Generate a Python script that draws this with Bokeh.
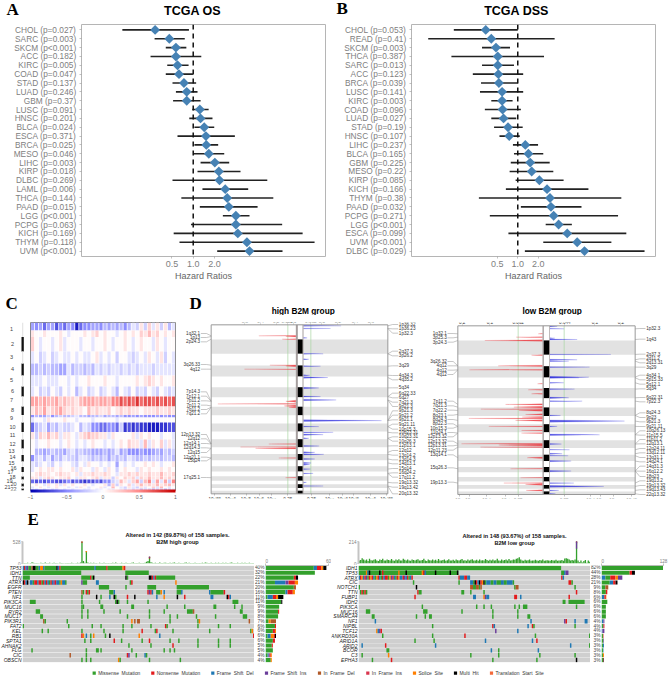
import numpy as np
from bokeh.plotting import figure
from bokeh.layouts import column, row
from bokeh.models import (Range1d, FactorRange, FixedTicker, Span, LinearAxis,
                          LinearColorMapper, ColorBar, ColumnDataSource)
from bokeh.core.properties import value
from bokeh.embed import file_html
from bokeh.resources import INLINE

FONT = "Liberation Sans"
SERIF = "Liberation Serif"

# ---------- Panel A / B values
OS_NAMES = ["CHOL","SARC","SKCM","ACC","KIRC","COAD","STAD","LUAD","GBM","LUSC","HNSC","BLCA","ESCA","BRCA","MESO","LIHC","KIRP","DLBC","LAML","THCA","PAAD","LGG","PCPG","KICH","THYM","UVM"]
OS_P = ["=0.027","=0.003","<0.001","=0.182","=0.005","=0.047","=0.137","=0.246","=0.37","=0.091","=0.201","=0.024","=0.371","=0.025","=0.046","=0.003","=0.018","=0.269","=0.006","=0.144","=0.015","<0.001","=0.063","=0.169","=0.118","<0.001"]
OS_LOW = [0.10,0.285,0.41,0.25,0.43,0.41,0.51,0.57,0.52,0.97,0.88,1.04,0.60,1.04,1.0,1.27,1.15,0.51,1.35,0.68,1.24,2.62,0.93,0.53,0.64,2.18]
OS_HR = [0.29,0.46,0.57,0.57,0.60,0.63,0.74,0.81,0.81,1.24,1.27,1.43,1.51,1.53,1.66,2.02,2.30,2.35,2.83,3.02,3.18,4.0,4.0,4.26,5.73,6.23]
OS_HIGH = [0.87,0.76,0.80,1.30,0.86,0.99,1.10,1.15,1.27,1.65,1.87,1.98,3.87,2.25,2.74,3.22,4.65,11.1,5.97,13.5,8.1,6.23,18.0,35.0,51.6,18.2]

DSS_NAMES = ["CHOL","READ","SKCM","THCA","SARC","ACC","BRCA","LUSC","KIRC","COAD","LUAD","STAD","HNSC","LIHC","BLCA","GBM","MESO","KIRP","KICH","THYM","PAAD","PCPG","LGG","ESCA","UVM","DLBC"]
DSS_P = ["=0.053","=0.41","=0.003","=0.387","=0.013","=0.123","=0.039","=0.141","=0.003","=0.096","=0.027","=0.19","=0.107","=0.237","=0.165","=0.225","=0.22","=0.085","=0.166","=0.38","=0.032","=0.271","<0.001","=0.099","<0.001","=0.029"]
DSS_LOW = [0.116,0.049,0.30,0.107,0.30,0.22,0.29,0.28,0.41,0.33,0.41,0.45,0.54,0.85,0.88,0.79,0.76,0.93,0.67,0.27,1.11,0.39,2.56,0.73,2.36,1.27]
DSS_HR = [0.34,0.41,0.48,0.51,0.51,0.52,0.53,0.59,0.59,0.60,0.62,0.72,0.75,1.29,1.43,1.52,1.60,2.07,2.68,2.96,3.06,3.35,3.96,5.29,7.4,9.46]
DSS_HIGH = [1.0,3.46,0.77,2.42,0.88,1.20,1.0,1.20,0.84,1.11,0.95,1.18,1.07,1.98,2.36,2.93,3.31,4.68,10.8,32.7,8.55,29.3,6.18,38.7,23.4,71.5]

# ---------- Panel C values (tenths of log ratio per sample bin, by chromosome arm)
HEAT_ROWS = ["1p","1q","2","3","4","5","6","7","8","9p","9q","10","11","12","13","14","15","16","17","18","19","20","21","22"]
HEAT_EDGES = [0,8,14.5,29,41,53,64,74,84,92.5,95,100,109.5,117,126,132.5,139,144.5,149.5,154,157,161,164,166,168]
HEAT_1P = [-4,-5,-4,-6,-4,-4,-7,-5,-6,-4,-5,-9,-6,-5,-5,-4,-4,-5,-3,-4,-3,-4,-3,-5,-3,-1,-2,1,-2,2,-1,1,-2,1,-3,-1]
HEAT_1Q = [1,0,0,1,0,0,0,1,0,-1,0,0,0,1,0,1,2,0,1,0,0,-1,0,1,0,1,0,2,1,3,1,2,0,1,0,1]
HEAT_2 = [2,0,-1,0,0,-1,0,1,-1,0,0,0,-1,0,0,-1,0,0,1,0,-1,0,0,1,0,-1,0,1,0,0,-1,1,0,-1,0,0]
HEAT_3 = [-1,0,-2,-1,0,-2,-1,0,-1,-1,0,-1,0,-1,-1,0,1,-1,0,-1,0,-2,0,0,-1,-2,-1,0,-1,1,0,-1,1,-2,0,-1]
HEAT_4 = [-3,-3,-2,-3,-2,-3,-3,-4,-4,-1,-3,-2,-2,-3,-2,-3,-1,-2,-1,-2,-1,-1,-2,-1,-2,-1,-2,-1,-1,-1,-2,-1,-1,-1,-1,-1]
HEAT_5 = [-1,-1,-1,0,-1,-1,-1,0,0,-1,0,-1,0,0,1,0,0,0,1,0,0,-1,0,0,0,0,1,0,1,2,1,0,1,0,0,1]
HEAT_6 = [-1,0,-2,-1,-2,0,-1,-2,0,-1,0,-3,-1,0,-2,-1,0,-2,-1,0,-1,-3,0,-1,-2,0,-2,-1,-2,0,-1,-2,0,-1,-2,-1]
HEAT_7 = [4,4,3,4,3,3,4,2,3,2,2,1,3,4,4,4,3,4,4,3,5,5,7,6,7,6,8,6,7,7,6,7,6,7,6,7]
HEAT_8 = [1,3,2,4,1,2,3,4,2,1,2,1,1,0,3,1,2,1,1,2,0,1,2,1,2,1,1,0,1,1,1,2,1,1,2,1]
HEAT_9P = [-5,-3,-4,-4,-2,-5,-3,-2,-3,-3,-2,-1,-3,-3,-4,-3,-3,-2,-4,-3,-3,-4,-3,-5,-5,-4,-5,-4,-5,-5,-5,-4,-5,-4,-5,-5]
HEAT_9Q = [-1,0,0,-1,1,0,0,0,1,0,0,-1,0,0,0,-1,0,0,0,0,0,-1,0,0,0,0,0,0,0,0,0,0,0,0,0,0]
HEAT_10 = [-6,-3,-2,-1,-4,-2,-3,-1,-2,-2,-1,0,-3,-1,-2,-5,-5,-6,-6,-5,-5,-6,-2,-8,-7,-8,-7,-8,-8,-9,-9,-9,-8,-8,-7,-7]
HEAT_11 = [1,-2,2,1,3,1,2,-1,1,1,0,-1,1,2,3,2,2,1,1,-1,1,0,0,0,0,1,-1,1,0,1,0,0,-1,0,0,-1]
HEAT_12 = [0,-1,0,0,1,0,0,-1,0,1,0,-1,0,-1,0,1,0,0,-1,0,-1,0,1,0,2,1,1,-1,3,-1,1,0,2,-1,1,-1]
HEAT_13 = [0,-3,-3,-4,-3,-2,-3,-3,-4,-2,-1,-3,-2,-3,-3,-4,-4,-4,-3,-4,-3,-1,-4,-3,-5,-5,-5,-4,-5,-5,-4,-3,-4,-2,-3,-2]
HEAT_14 = [-5,-2,-1,-3,-1,-4,-2,-3,-1,-2,-2,-3,-1,-1,-2,-3,-2,-3,-2,-4,-2,-3,-2,-3,-1,-2,-3,-3,-2,-3,-2,-2,-3,-2,-2,-3]
HEAT_15 = [-1,-2,-1,0,-1,-2,0,-1,0,0,-1,-2,0,-1,1,0,0,-1,0,-1,0,-4,0,-1,0,-1,0,0,1,0,1,0,-1,0,0,1]
HEAT_16 = [-1,0,1,0,1,1,0,1,0,0,1,-1,1,0,0,-1,1,0,-1,1,0,-2,0,1,0,0,-1,1,0,1,0,0,1,0,1,0]
HEAT_17 = [0,1,2,1,1,0,1,2,1,1,0,1,-1,1,1,2,1,1,2,1,0,-1,1,1,2,1,2,1,1,2,1,1,3,1,1,2]
HEAT_18 = [1,1,-1,1,2,1,0,1,1,2,0,-1,1,1,0,1,2,-1,1,1,-2,1,0,2,1,2,-1,2,1,3,1,1,3,1,2,1]
HEAT_19 = [-6,-7,-6,-7,-6,-6,-7,-7,-6,-5,-7,-6,-7,-8,-7,-7,-6,-7,-5,-5,-2,-1,3,1,-1,2,4,-2,3,5,-1,4,-1,4,-2,5]
HEAT_20 = [0,1,0,-1,1,0,1,-1,1,0,1,0,0,1,0,-1,0,0,1,-3,2,-2,1,0,2,-1,1,3,1,2,1,3,1,2,3,1]
HEAT_21 = [-1,0,1,0,-1,0,1,0,0,-1,0,-1,1,0,-1,0,0,1,-1,0,3,0,-1,-2,1,-1,-2,1,-1,0,2,-1,3,0,-1,0]
HEAT_22 = [-1,-1,0,-1,0,-1,-1,0,-1,0,-1,0,0,-1,-1,0,-1,-1,0,-1,-1,0,-1,-2,-1,-2,-1,-3,-2,-2,-3,-2,-2,-3,-2,-1]
HEAT_ALL = [HEAT_1P,HEAT_1Q,HEAT_2,HEAT_3,HEAT_4,HEAT_5,HEAT_6,HEAT_7,HEAT_8,HEAT_9P,HEAT_9Q,HEAT_10,HEAT_11,HEAT_12,HEAT_13,HEAT_14,HEAT_15,HEAT_16,HEAT_17,HEAT_18,HEAT_19,HEAT_20,HEAT_21,HEAT_22]
CHR_NAMES = [str(i) for i in range(1,23)]
CHR_TOP = [0,14.5,29,41,53,64,74,84,92.5,100,109.5,117,126,132.5,139,144.5,149.5,154,157,161,164,166]
CHR_BOT = CHR_TOP[1:]+[168]
CHR_LABEL_Y = [6.7,21,34,46,57,68,77,87.7,95.7,104,112.7,121,128.7,134.7,140,145,149,154,158,161.7,164.3,166.7]
CHR_LABEL_X = [11,12,11,12,11,12,11,12,11,12,12,12,11,12,11,13,10,12,9,13,7,13]

# ---------- Panel D values
CHR_LEN = [249,243,198,191,181,171,159,146,141,135,135,133,115,107,102,90,81,78,59,63,48,51]
HA_POS = [187,199,244,687,700,755,1301,1346,1380,1403,2028,2079,2102,2266,2601]
HA_REACH = [111,30,41,78,30,154,30,234,35,21,81,166,121,51,31]
HA_W = [4,9,7,5,12,5,18,6,16,8,5,6,10,6,5]
HD_POS = [17,62,222,494,585,704,858,897,1074,1221,1278,1630,1732,1829,1869,1931,2062,2170,2204,2283,2351,2380,2454,2528,2681,2743]
HD_REACH = [113,81,11,59,16,51,19,73,46,51,98,234,46,89,59,16,47,34,61,34,23,19,21,29,9,59]
HD_W = [8,5,6,6,8,6,8,14,12,8,12,16,6,6,12,8,10,10,12,10,12,10,6,6,5,6]
LA_POS = [136,193,250,500,682,750,988,1091,1159,1340,1386,1420,1443,1511,1556,1579,1613,1715,1784,1829,2011,2033,2068,2249,2437,2590,2681,2704,2806]
LA_REACH = [13,79,173,33,133,219,15,43,33,111,86,185,71,51,61,221,81,161,63,63,243,131,186,46,96,66,116,51,49]
LA_W = [5,7,14,6,10,6,5,6,6,10,16,6,14,10,12,7,12,5,6,6,6,18,7,12,5,6,5,16,10]
LD_POS = [11,51,210,233,488,579,602,704,875,886,971,1079,1227,1284,1528,1624,1715,1857,2016,2113,2181,2215,2306,2476,2681,2738,2806,2863]
LD_REACH = [22,43,15,82,183,82,57,119,117,87,42,74,57,97,32,224,22,149,35,59,37,55,64,64,72,162,27,17]
LD_W = [8,5,6,8,5,9,6,7,14,6,6,7,12,6,6,18,6,14,8,6,8,6,10,10,6,14,6,5]

HL_TEXT = ["1q32.1","1p13","2p24.3","3q26.33","4q12","7p14.3","7p12.1","7p11.2","7p11.2","7q11.2","7q21.2","12p13.32","12q12","12q14.1","12q14.3","12q15","12q21.1","15q24","17q25.1"]
HL_Z = [219,231,244,312,326,394,407,421,434,447,460,522,535,549,562,576,590,601,651]
HR_TEXT = ["1p36.32","1p36.23","1p32.3","2q37.3","3p26.2","3q29","4q34.3","4q35.2","5q34","6q22.33","6q27","7q21.3","9p21.3","9p21.3","9p21.2","9p21.1","9q21.11","10p15.3","10q23.31","10q23.31","10q26.3","12p13.1","12q12","13q14.2","13q14.3","14q13.1","15q14","16q24.2","17q11.2","19q13.32","19q13.42","20q13.32"]
HR_Z = [192,205,218,272,286,316,345,358,382,398,412,425,438,451,464,478,491,506,517,529,542,556,570,584,598,610,624,637,650,667,680,700]
LL_TEXT = ["1q32.1","3p25.3","3p24.3","3q26.32","4q12","4q12","4q12","7p11.2","7q21.3","7q22.2","8q23.1","8q24.3","8p22.3","10p15.3","11q24.1","12p13.32","12p13.32","12p13.31","12p11.23","13q14.1","15q26.3","19p13.3"]
LL_Z = [219,232,245,303,316,329,342,422,436,449,464,477,490,503,516,529,542,556,569,583,622,665]
LR_TEXT = ["1p32.3","1q43","2q37.3","2q11.2","2q13.31","3q29","4q34.1","5p15.33","5q12.1","5q34","6q22.31","7p22.3","8q24.3","9p23","9p21.3","9q21.11","10q26.13","11p15.5","11p11.2","12q13.1","12q24.11","13q12.11","13q31.1","14q24.1","14q31.3","16q12.2","18q23","19q13.2","19q13.32","19q13.43","22q13.32"]
LR_Z = [204,236,281,295,307,320,344,358,371,385,411,424,457,471,484,498,511,524,537,550,564,577,591,604,617,632,648,661,675,688,702]

HT_TOP = {193:"0.8",240:"0.4",287:"0.2",320:"0.113",338:"0.1",391:"0.062",424:"0.1",472:"0.2",523:"0.4",571:"0.6"}
HT_BOT = {103:"10⁻²⁰⁰",150:"10⁻⁵⁰",197:"10⁻²⁰",236:"10⁻¹⁰",273:"10⁻⁴",322:"0.25",393:"0.25",447:"10⁻⁴",486:"10⁻¹⁰",520:"10⁻²⁰",570:"10⁻⁵⁰",618:"10⁻²⁰⁰"}
LT_TOP = {110:"0.2",193:"0.1",278:"0.062",418:"0.044",508:"0.1",586:"0.2"}
LT_BOT = {103:"10⁻⁸",133:"10⁻⁵",183:"10⁻³",241:"10⁻¹",278:"0.25",416:"0.25",495:"10⁻³",526:"10⁻⁵",565:"10⁻⁸",618:"10⁻²⁰"}

# ---------- Panel E values
GENES_HIGH = ["TP53","IDH1","TTN","ATRX","EGFR","PTEN","NF1","PIK3CA","MUC16","RYR2","MUC17","PIK3R1","FAT2","KEL","RB1","SPTA1","AHNAK2","FLG","CIC","OBSCN"]
PCT_HIGH = ["40%","32%","22%","21%","20%","16%","11%","11%","9%","9%","8%","7%","6%","6%","6%","6%","5%","5%","4%","4%"]
MUT_HIGH = [
 [(0,1,"D"),(1,1,"N"),(2,1,"D"),(3,1,"I"),(4,2,"M"),(6,1,"F"),(7,2,"H"),(9,2,"M"),(11,1,"D"),(12,2,"S"),(14,1,"D"),(15,8,"M"),(23,1,"H"),(24,1,"D"),(25,1,"N"),(26,23,"M"),(49,1,"D"),(50,7,"M"),(57,1,"N"),(58,10,"M"),(68,1,"S"),(69,1,"N")],
 [(0,40,"M"),(70,16,"M")],
 [(0,5,"M"),(40,6,"M"),(46,1,"N"),(47,1,"M"),(48,1,"H"),(70,1,"H"),(71,1,"M"),(86,2,"H"),(88,1,"N"),(89,1,"D"),(90,1,"N"),(91,13,"M")],
 [(0,1,"H"),(1,1,"N"),(2,1,"D"),(3,1,"H"),(5,2,"D"),(7,1,"M"),(8,2,"N"),(10,1,"D"),(11,2,"N"),(13,1,"M"),(14,1,"N"),(15,1,"D"),(16,1,"N"),(17,1,"D"),(18,1,"M"),(19,1,"N"),(20,1,"D"),(21,1,"I"),(22,1,"N"),(23,2,"D"),(25,1,"M"),(26,1,"S"),(27,2,"D"),(29,1,"M"),(40,1,"I"),(41,3,"M"),(50,2,"D"),(73,1,"M"),(74,1,"N"),(104,1,"S")],
 [(52,7,"M"),(70,1,"M"),(85,6,"M"),(105,22,"M")],
 [(40,1,"F"),(41,1,"M"),(43,1,"N"),(44,1,"M"),(45,1,"N"),(59,3,"M"),(62,1,"D"),(85,1,"N"),(86,1,"I"),(87,1,"N"),(88,1,"D"),(91,3,"M"),(94,1,"S"),(96,1,"D"),(105,3,"M"),(108,1,"D"),(127,1,"D"),(128,9,"M"),(137,1,"N")],
 [(40,1,"M"),(50,1,"H"),(53,1,"M"),(59,1,"D"),(62,1,"H"),(63,1,"M"),(71,1,"N"),(76,1,"H"),(91,1,"D"),(96,1,"S"),(105,1,"H"),(110,1,"N"),(128,2,"D"),(139,1,"H"),(140,1,"N"),(141,1,"D")],
 [(5,4,"M"),(40,1,"M"),(52,1,"M"),(63,1,"M"),(64,1,"H"),(65,1,"M"),(71,1,"M"),(85,1,"M"),(143,4,"M")],
 [(40,1,"M"),(41,1,"M"),(53,2,"M"),(74,2,"M"),(98,1,"M"),(110,1,"M"),(130,2,"M"),(144,1,"M"),(149,1,"M")],
 [(9,3,"M"),(40,1,"M"),(44,1,"M"),(55,1,"M"),(66,1,"M"),(86,1,"M"),(96,1,"M"),(112,4,"M"),(116,1,"F"),(148,2,"M")],
 [(12,2,"M"),(40,1,"M"),(44,1,"M"),(71,1,"M"),(86,1,"M"),(100,1,"M"),(105,1,"M"),(118,1,"M"),(131,1,"M"),(150,3,"M")],
 [(14,1,"F"),(15,1,"M"),(30,1,"M"),(74,1,"S"),(76,1,"F"),(78,2,"F"),(100,1,"M"),(119,1,"M"),(120,1,"S"),(154,1,"F")],
 [(0,1,"M"),(31,1,"M"),(47,1,"M"),(53,1,"M"),(68,1,"M"),(74,1,"M"),(87,1,"M"),(97,1,"N"),(98,1,"M"),(119,1,"M"),(133,1,"M"),(141,1,"M")],
 [(13,1,"M"),(17,1,"M"),(40,1,"M"),(55,1,"M"),(68,1,"M"),(81,1,"N"),(90,1,"M"),(91,1,"N"),(102,1,"M"),(127,1,"M"),(155,1,"M"),(156,1,"S")],
 [(40,1,"N"),(41,1,"S"),(43,1,"D"),(46,1,"M"),(48,1,"S"),(56,1,"M"),(59,1,"H"),(79,1,"S"),(93,1,"D"),(157,1,"N")],
 [(42,1,"M"),(46,1,"M"),(62,1,"N"),(67,1,"M"),(81,1,"M"),(86,1,"N"),(100,1,"M"),(106,1,"M"),(119,1,"M"),(133,1,"M"),(141,1,"M")],
 [(72,1,"M"),(87,1,"M"),(102,1,"N"),(119,1,"M"),(133,1,"M"),(141,1,"M")],
 [(6,1,"M"),(43,1,"M"),(50,2,"M"),(53,1,"M"),(74,1,"M"),(96,1,"M"),(100,1,"M"),(103,1,"M")],
 [(32,1,"F"),(43,1,"M"),(71,1,"N"),(72,1,"I"),(77,1,"M"),(83,1,"D"),(84,1,"M")],
 [(40,1,"M"),(43,1,"M"),(46,1,"M"),(65,1,"S"),(66,1,"M"),(86,1,"M"),(107,1,"M")],
]
BARS_HIGH = [[("M",46),("D",3),("N",4),("S",2),("H",3)],[("M",47)],[("M",27),("N",2),("H",2)],[("M",9),("D",10),("I",3),("N",6),("S",3)],[("M",27),("F",2)],[("M",19),("D",2),("N",5),("S",2)],[("M",2),("D",5),("N",3),("S",2),("H",5)],[("M",15),("H",1)],[("M",13)],[("M",12),("N",1)],[("M",12)],[("M",3),("S",2),("F",5)],[("M",9),("N",1)],[("M",7),("N",2),("S",1)],[("M",2),("D",3),("S",3),("N",1),("H",1)],[("M",7),("N",2)],[("M",6),("N",1)],[("M",7)],[("M",2),("D",1),("I",1),("N",1),("S",1)],[("M",5),("S",1)]]
TMB_HIGH = [12,10,14,18,8,15,30,16,10,12,14,9,18,12,10,22,13,11,16,9,10,17,12,14,9,20,13,12,8,15,11,14,10,16,12,9,13,18,15,25,528,60,20,300,25,14,18,10,16,12,14,9,20,13,11,18,12,15,10,14,12,16,10,22,14,9,13,18,11,15,20,12,14,10,16,25,13,11,15,18,12,14,10,18,40,60,160,30,16,12,18,14,10,22,15,12,16,20,14,13,18,12,16,22,14,10,18,13,15,12,16,22,14,18,11,15,13,20,14,10,15,12,18,14,22,16,10,14,20,13,15,18,12,16,14,10,20,13,18,12,14,16,22,11,15,13,18,10,14,20,12,16,14,10,18,13,15,12]
TMB_HIGH_EXTRA = [(40,30,"N"),(43,30,"S"),(86,40,"N"),(86,20,"I")]

GENES_LOW = ["IDH1","TP53","ATRX","CIC","NOTCH1","TTN","FUBP1","IDH2","PIK3CA","MUC16","SMARCA4","NF1","NIPBL","TCF12","ANKRD30A","ARID1A","ARID2","BCOR","C3","EPHA3"]
PCT_LOW = ["82%","44%","28%","21%","9%","8%","6%","6%","6%","6%","6%","4%","4%","4%","3%","3%","3%","3%","3%","3%"]
MUT_LOW = [
 [(0,138,"M")],
 [(0,68,"M"),(5,1,"S"),(6,1,"D"),(7,1,"H"),(14,1,"H"),(16,1,"N"),(27,1,"S"),(32,1,"H"),(43,1,"S"),(44,1,"N"),(45,1,"D"),(52,1,"H"),(62,1,"H"),(67,1,"H"),(138,2,"M"),(140,1,"D"),(141,2,"I")],
 [(0,1,"D"),(1,1,"N"),(2,1,"S"),(3,1,"D"),(4,1,"N"),(5,1,"I"),(6,1,"M"),(7,1,"N"),(8,1,"S"),(9,1,"N"),(10,1,"D"),(11,1,"M"),(12,1,"S"),(13,1,"N"),(14,1,"D"),(15,1,"M"),(16,1,"N"),(17,1,"D"),(18,2,"N"),(20,1,"M"),(21,1,"S"),(22,1,"I"),(23,1,"N"),(24,1,"D"),(25,1,"M"),(26,1,"N"),(27,1,"S"),(28,2,"D"),(30,1,"N"),(31,1,"I"),(32,1,"D"),(33,1,"N"),(34,1,"M"),(35,1,"D"),(36,1,"N"),(68,1,"N"),(69,3,"D"),(72,2,"N"),(74,2,"D"),(138,1,"N"),(139,1,"D")],
 [(37,1,"M"),(68,1,"M"),(76,2,"D"),(78,1,"M"),(79,1,"H"),(80,1,"N"),(81,1,"D"),(82,1,"H"),(83,1,"N"),(84,1,"S"),(85,1,"H"),(86,1,"M"),(87,3,"D"),(90,2,"M"),(92,2,"D"),(94,3,"M"),(97,2,"D"),(99,2,"M"),(101,4,"D"),(105,1,"M"),(143,2,"N"),(145,1,"M")],
 [(0,1,"M"),(39,1,"H"),(76,2,"F"),(78,2,"M"),(80,2,"F"),(82,1,"M"),(83,1,"F"),(106,1,"M"),(107,2,"F"),(147,1,"M")],
 [(1,1,"M"),(2,1,"N"),(3,1,"M"),(4,1,"N"),(5,1,"M"),(40,1,"N"),(41,2,"M"),(70,2,"M"),(76,1,"M"),(85,1,"M"),(148,1,"N")],
 [(38,1,"N"),(78,2,"D"),(85,1,"S"),(86,1,"I"),(87,2,"D"),(106,2,"N"),(110,1,"D"),(143,1,"N")],
 [(139,2,"M"),(143,11,"M")],
 [(43,1,"M"),(80,1,"M"),(85,1,"M"),(90,1,"M"),(106,1,"M"),(109,1,"M"),(112,3,"M"),(148,1,"M")],
 [(5,3,"M"),(44,3,"M"),(70,1,"M"),(91,1,"M"),(108,1,"M")],
 [(9,2,"M"),(39,1,"M"),(45,1,"M"),(48,2,"M"),(91,1,"M"),(108,1,"M"),(115,2,"M")],
 [(11,1,"D"),(117,1,"D"),(140,1,"I"),(141,1,"N"),(147,1,"D"),(154,2,"D")],
 [(50,1,"M"),(91,1,"N"),(92,1,"D"),(115,1,"D"),(118,1,"N"),(119,1,"M"),(147,1,"M")],
 [(12,1,"S"),(13,1,"D"),(14,1,"I"),(15,1,"N"),(93,1,"I"),(108,1,"D")],
 [(16,1,"M"),(50,1,"M"),(72,1,"N"),(120,1,"M"),(157,1,"M")],
 [(38,1,"M"),(51,1,"M"),(86,1,"D"),(118,1,"D"),(121,1,"N")],
 [(2,1,"D"),(18,1,"N"),(52,1,"D"),(144,1,"D"),(157,1,"M")],
 [(19,2,"M"),(90,1,"D"),(95,1,"M"),(122,1,"D")],
 [(2,1,"M"),(20,1,"S"),(76,1,"M"),(95,1,"M"),(123,1,"M"),(147,1,"M")],
 [(9,1,"M"),(22,1,"N"),(91,1,"M"),(121,1,"M"),(148,1,"H")],
]
BARS_LOW = [[("M",127)],[("M",58),("N",5),("H",6)],[("D",8),("M",10),("N",11),("S",5),("I",9)],[("M",17),("D",7),("N",5),("H",4)],[("M",8),("F",6)],[("M",9),("N",3)],[("M",1),("D",5),("N",3),("S",1)],[("M",12)],[("M",9)],[("M",9)],[("M",9)],[("M",1),("D",3),("I",2)],[("M",3),("D",1),("N",2)],[("D",2),("I",4)],[("M",3),("N",1)],[("M",3),("N",1),("D",1)],[("M",3),("D",2)],[("M",3),("D",1)],[("M",3),("S",2)],[("M",3),("N",1),("H",1)]]
TMB_LOW = [30,35,50,38,28,40,25,45,32,28,36,42,30,25,38,33,45,28,30,40,35,28,44,30,26,38,32,42,30,28,45,36,28,38,30,26,40,33,28,36,42,30,28,35,46,30,25,38,32,28,40,30,36,26,44,30,28,34,38,26,32,42,28,30,36,26,40,32,28,36,44,28,32,26,38,30,36,42,28,30,36,26,40,30,32,28,44,34,26,36,30,40,28,32,46,30,26,38,30,34,38,28,44,30,32,40,36,45,52,62,40,30,26,36,28,32,40,26,30,28,36,30,26,34,28,38,26,30,32,28,26,34,30,28,36,26,30,28,34,26,48,52,45,38,30,34,28,40,214,30,12,28,10,25,34,8,30,18]
TMB_LOW_EXTRA = [(148,16,"N"),(148,70,"I")]

LEG_NAMES = ["Missense_Mutation","Nonsense_Mutation","Frame_Shift_Del","Frame_Shift_Ins","In_Frame_Del","In_Frame_Ins","Splice_Site","Multi_Hit","Translation_Start_Site"]
LEG_CODES = ["M","N","D","I","F","i","S","H","T"]

# ---------- Styles
COL = {"M":"#33a02c","N":"#e31a1c","D":"#1f78b4","I":"#6a3d9a","F":"#b15928","i":"#d9344d","S":"#ff7f00","H":"#000000","T":"#f4693a"}

def mk(left, fw, right, top, fh, bottom, **kw):
    kw.setdefault("x_axis_location", None)
    kw.setdefault("y_axis_location", None)
    p = figure(frame_width=fw, frame_height=fh, min_border_left=left, min_border_right=right,
               min_border_top=top, min_border_bottom=bottom, output_backend="svg",
               toolbar_location=None, **kw)
    p.grid.visible = False
    p.outline_line_color = None
    p.background_fill_alpha = 0
    return p

def header(w, h, items):
    """Strip of free text: (x, y, text, size, font, style, align, baseline)."""
    p = mk(0, w, 0, 0, h, 0, x_range=Range1d(0, w), y_range=Range1d(h, 0))
    for x, y, t, size, font, style, align, base in items:
        p.text(x=[x], y=[y], text=[t], text_font=value(font), text_font_size=f"{size}px",
               text_font_style=style, text_align=align, text_baseline=base, text_color="#000000")
    return p

def L(x, y, t):
    return (x, y, t, 17, SERIF, "bold", "left", "middle")

def T(x, y, t, size):
    return (x, y, t, size, FONT, "bold", "center", "middle")

def axis_style(ax, size, color="#808080", standoff=2, tick=2):
    ax.major_label_text_font = FONT
    ax.major_label_text_font_size = f"{size}px"
    ax.major_label_text_color = color
    ax.major_label_standoff = standoff
    ax.major_tick_out = tick
    ax.major_tick_in = 0
    ax.minor_tick_out = 0
    ax.minor_tick_in = 0
    ax.major_tick_line_color = "#999999"
    ax.major_tick_line_width = 0.6
    ax.axis_line_color = None

def forest(names, pv, lo, hr, hi, left, right, start, end):
    labels = [f"{n}  (p{q})" for n, q in zip(names, pv)]
    p = mk(left, 244, right, 0, 232, 29, x_axis_type="log", x_range=Range1d(start, end),
           y_range=FactorRange(factors=labels[::-1], range_padding=0.0087),
           x_axis_location="below", y_axis_location="left")
    p.outline_line_color = "#b5b5b5"
    p.outline_line_width = 1
    p.add_layout(Span(location=1.0, dimension="height", line_color="#111111", line_width=1.5, line_dash="5 4"))
    p.segment(x0=lo, y0=labels, x1=hi, y1=labels, line_color="#222222", line_width=1.6)
    p.scatter(hr, labels, marker="square", angle=0.785, size=7, fill_color="#4682b4", line_color=None)
    xa = p.xaxis[0]
    xa.ticker = FixedTicker(ticks=[0.5, 1, 2])
    xa.major_label_overrides = {0.5: "0.5", 1: "1.0", 2: "2.0"}
    axis_style(xa, 9)
    xa.axis_label = "Hazard Ratios"
    xa.axis_label_text_font = FONT
    xa.axis_label_text_font_style = "normal"
    xa.axis_label_text_font_size = "9px"
    xa.axis_label_text_color = "#666666"
    xa.axis_label_standoff = 1
    axis_style(p.yaxis[0], 8.3, standoff=1)
    return p

# ----- A, B
hdr1 = header(669, 24, [L(6, 8.5, "A"), T(192, 10, "TCGA OS", 12.5), L(336, 7.5, "B"), T(516, 10, "TCGA DSS", 12.5)])
pA = forest(OS_NAMES, OS_P, OS_LOW, OS_HR, OS_HIGH, 81, 10, 0.02651, 73.6)
pB = forest(DSS_NAMES, DSS_P, DSS_LOW, DSS_HR, DSS_HIGH, 76, 14, 0.0279, 103.4)

# ----- C
hdr2 = header(669, 30, [L(5, 18.3, "C"), L(189, 17.5, "D"), T(302.7, 25, "high B2M group", 8.3), T(551.7, 25, "low B2M group", 8.3)])
pS = mk(0, 24, 0, 5, 168, 20, x_range=Range1d(0, 24), y_range=Range1d(168, 0))
pS.quad(left=21, right=23.3, top=CHR_TOP[1::2], bottom=CHR_BOT[1::2], fill_color="#111111", line_color=None)
pS.quad(left=21.5, right=22.8, top=CHR_TOP[0::2], bottom=CHR_BOT[0::2], fill_color="#e6e6e6", line_color=None)
pS.text(x=CHR_LABEL_X, y=CHR_LABEL_Y, text=CHR_NAMES, text_font=value(FONT), text_font_size="5.5px",
        text_color="#444444", text_align="center", text_baseline="middle")

stops = [(0, 0, 180), (140, 140, 255), (255, 255, 255), (255, 140, 140), (200, 0, 0)]
palette = []
for i in range(64):
    f = i/63*4
    a = min(int(f), 3)
    t = f-a
    c = [round(stops[a][k]*(1-t)+stops[a+1][k]*t) for k in range(3)]
    palette.append("#%02x%02x%02x" % tuple(c))
mapper = LinearColorMapper(palette=palette, low=-1, high=1)

pC = mk(6, 145, 5, 5, 168, 20, x_range=Range1d(0, 36), y_range=Range1d(168, 0))
pC.outline_line_color = "#8a8a8a"
lefts, tops, bots, vals = [], [], [], []
for r, rowv in enumerate(HEAT_ALL):
    for c, v in enumerate(rowv):
        lefts.append(c+0.1); tops.append(HEAT_EDGES[r]); bots.append(HEAT_EDGES[r+1]); vals.append(v/10)
pC.quad(source=ColumnDataSource(dict(left=lefts, right=[a+0.8 for a in lefts], top=tops, bottom=bots, v=vals)),
        left="left", right="right", top="top", bottom="bottom",
        fill_color={"field": "v", "transform": mapper}, line_color=None)
cb = ColorBar(color_mapper=mapper, orientation="horizontal", width=145, height=3, padding=0, margin=0,
              location=(0, -11), ticker=FixedTicker(ticks=[-1, -0.5, 0, 0.5, 1]),
              major_label_text_font=FONT, major_label_text_font_size="5px", major_label_text_color="#666666",
              major_tick_line_color=None, minor_tick_line_color=None, bar_line_color=None, label_standoff=2,
              background_fill_alpha=0, border_line_color=None)
pC.add_layout(cb)

# ----- D
CUM = np.concatenate([[0], np.cumsum(CHR_LEN)])
TOTAL = float(CUM[-1])

def gistic(width, box, band, inner, ztop, zbot, a_pos, a_reach, a_w, d_pos, d_reach, d_w,
           ltxt, lz, rtxt, rz, top_ticks, bot_ticks, green, lab_gap):
    K = TOTAL/(zbot-ztop)
    to_mb = lambda z: (z-ztop)*K
    bL, bR = box
    zL, zR = band
    p = mk(0, width, 0, 7, 176, 10, x_range=Range1d(0, width*3), y_range=Range1d(to_mb(714), to_mb(186)))
    p.quad(left=bL, right=bR, top=CUM[1:-1:2], bottom=CUM[2::2], fill_color="#e2e2e2", line_color=None)
    p.segment(x0=green, y0=[0, 0], x1=green, y1=[TOTAL, TOTAL], line_color="#a9d6a4", line_width=0.7)
    p.patches(xs=[[zL, zL-r, zL] for r in a_reach], ys=[[m-w, m, m+w] for m, w in zip(a_pos, a_w)],
              fill_color="#ea1c24", fill_alpha=0.7, line_color="#ea1c24", line_alpha=0.35, line_width=0.4)
    p.patches(xs=[[zR, zR+r, zR] for r in d_reach], ys=[[m-w, m, m+w] for m, w in zip(d_pos, d_w)],
              fill_color="#1c1cdc", fill_alpha=0.7, line_color="#1c1cdc", line_alpha=0.35, line_width=0.4)
    p.quad(left=zL, right=zR, top=0, bottom=TOTAL, fill_color="#a59e9e", line_color=None)
    p.quad(left=inner[0], right=inner[1], top=CUM[:-1], bottom=CUM[1:],
           fill_color=["#000000" if i % 2 else "#ffffff" for i in range(22)], line_color=None)
    p.quad(left=bL, right=bR, top=0, bottom=TOTAL, fill_alpha=0, line_color="#999999", line_width=1)
    for txt, zs, xedge, sign, pos in ((ltxt, lz, bL, -1, a_pos), (rtxt, rz, bR, 1, d_pos)):
        xs, ys, lx, ly = [], [], [], []
        for z in zs:
            y = to_mb(z)
            tgt = min(pos, key=lambda m: abs(m-y))
            xs.append([xedge, xedge+sign*14, xedge+sign*(lab_gap-2)])
            ys.append([tgt, y, y])
            lx.append(xedge+sign*lab_gap)
            ly.append(y)
        p.multi_line(xs=xs, ys=ys, line_color="#8f8f8f", line_width=0.5)
        p.text(x=lx, y=ly, text=txt, text_font=value(FONT), text_font_size="4.6px", text_color="#333333",
               text_align="right" if sign < 0 else "left", text_baseline="middle")
    top_ax = LinearAxis(ticker=FixedTicker(ticks=list(top_ticks)), major_label_overrides=top_ticks, fixed_location=0)
    axis_style(top_ax, 4.6, color="#333333", standoff=1, tick=1)
    p.add_layout(top_ax, "above")
    bot_ax = LinearAxis(ticker=FixedTicker(ticks=list(bot_ticks)), major_label_overrides=bot_ticks, fixed_location=TOTAL)
    axis_style(bot_ax, 4.6, color="#333333", standoff=1, tick=2)
    p.add_layout(bot_ax, "below")
    return p

pD1 = gistic(245, (92, 622), (346, 369), (352, 366), 193, 700,
             HA_POS, HA_REACH, HA_W, HD_POS, HD_REACH, HD_W, HL_TEXT, HL_Z, HR_TEXT, HR_Z,
             HT_TOP, HT_BOT, [322, 391], 33)
pD2 = gistic(244, (97, 629), (351, 373), (355, 371), 196, 702,
             LA_POS, LA_REACH, LA_W, LD_POS, LD_REACH, LD_W, LL_TEXT, LL_Z, LR_TEXT, LR_Z,
             LT_TOP, LT_BOT, [278, 416], 33)

# ----- E
def onco(genes, pct, muts, bars, tmb, extra, tmax, bar_max, title1, title2, tcx, fl, barw, barr, titley, let=None):
    n = len(tmb)
    hd = header(fl+232, 22, [L(5, 11, let)] if let else [])
    # frame reaches above the top of the bars so the two title lines stay inside it
    ymax = tmax*33/22
    pT = mk(fl, 232, 0, 0, 33, 2, x_range=Range1d(0, n), y_range=Range1d(0, ymax))
    xs = np.arange(n)+0.5
    pT.vbar(x=xs, top=tmb, width=0.9, color=COL["M"], line_color=None)
    if extra:
        pT.vbar(x=[e[0]+0.5 for e in extra], bottom=[tmb[e[0]]-e[1] for e in extra], top=[tmb[e[0]] for e in extra],
                width=0.9, color=[COL[e[2]] for e in extra], line_color=None)
    ya = LinearAxis(ticker=FixedTicker(ticks=[0, tmax]), bounds=(0, tmax))
    axis_style(ya, 4.6, standoff=1, tick=1)
    ya.axis_line_color = "#c4c4c4"
    ya.axis_line_width = 2
    pT.add_layout(ya, "left")
    px_to_y = lambda py: ymax*(563-py)/33
    pT.text(x=[(tcx-fl)*n/232]*2, y=[px_to_y(titley), px_to_y(titley+7)], text=[title1, title2],
            text_font=value(FONT), text_font_size="5.6px", text_font_style="bold", text_color="#111111",
            text_align="center", text_baseline="middle")
    # gene names in their own strip, so that their width cannot push the matrix aside
    pG = mk(0, fl, 0, 0, 97, 2, x_range=Range1d(0, fl), y_range=FactorRange(factors=genes[::-1]))
    pG.text(x=[fl-1]*len(genes), y=genes, text=genes, text_font=value(FONT), text_font_size="5px",
            text_font_style="italic", text_color="#222222", text_align="right", text_baseline="middle")
    pM = mk(0, 232, 0, 0, 97, 2, x_range=Range1d(0, n), y_range=FactorRange(factors=genes[::-1]))
    pM.hbar(y=genes, left=0, right=n, height=0.92, color="#cfcfcf", line_color=None)
    ys, ls, rs, cs = [], [], [], []
    for g, runs in zip(genes, muts):
        for s, ln, code in runs:
            ys.append(g); ls.append(s); rs.append(s+ln); cs.append(COL[code])
    pM.hbar(y=ys, left=ls, right=rs, height=0.92, color=cs, line_color=None)
    # percentages in their own strip as well
    pP = mk(0, 11, 0, 57, 97, 2, x_range=Range1d(0, 11), y_range=Range1d(20, 0))
    pos = [i+0.5 for i in range(20)]
    pP.text(x=[10]*20, y=pos, text=pct, text_font=value(FONT), text_font_size="4.8px", text_color="#444444",
            text_align="right", text_baseline="middle")
    pR = mk(0, barw, barr, 57, 97, 2, x_range=Range1d(0, bar_max), y_range=Range1d(20, 0))
    yy, ll, rr, cc = [], [], [], []
    for i, stack in enumerate(bars):
        c0 = 0
        for code, cnt in stack:
            yy.append(i+0.5); ll.append(c0); rr.append(c0+cnt); cc.append(COL[code])
            c0 += cnt
    pR.hbar(y=yy, left=ll, right=rr, height=0.86, color=cc, line_color=None)
    top = LinearAxis(ticker=FixedTicker(ticks=[0, bar_max]))
    axis_style(top, 4.6, standoff=1, tick=2)
    top.axis_line_color = "#999999"
    top.axis_line_width = 0.6
    pR.add_layout(top, "above")
    return row(column(hd, pT, row(pG, pM)), pP, pR)

e1 = onco(GENES_HIGH, PCT_HIGH, MUT_HIGH, BARS_HIGH, TMB_HIGH, TMB_HIGH_EXTRA, 528, 60,
          "Altered in 142 (89.87%) of 158 samples.", "B2M high group", 177, 22, 63, 3, 534, let="E")
e2 = onco(GENES_LOW, PCT_LOW, MUT_LOW, BARS_LOW, TMB_LOW, TMB_LOW_EXTRA, 214, 128,
          "Altered in 148 (93.67%) of 158 samples.", "B2M low group", 514-331, 27, 62, 6, 535)

# ----- Legend row
LEG_X = [93.7, 152.3, 212.3, 266, 319, 367.3, 414, 455, 491]
pL = mk(0, 669, 0, 0, 11, 0, x_range=Range1d(0, 669), y_range=Range1d(11, 0))
pL.rect(x=LEG_X, y=[7.7]*9, width=3.2, height=3.2, fill_color=[COL[c] for c in LEG_CODES], line_color=None)
pL.text(x=[a+4 for a in LEG_X], y=[7.7]*9, text=LEG_NAMES, text_font=value(FONT), text_font_size="4.9px",
        text_color="#333333", text_baseline="middle")

page = column(hdr1, row(pA, pB), hdr2, row(pS, pC, pD1, pD2), row(e1, e2), pL, margin=(0, 0, 0, 0))
open("out.html", "w").write(file_html(page, INLINE))
